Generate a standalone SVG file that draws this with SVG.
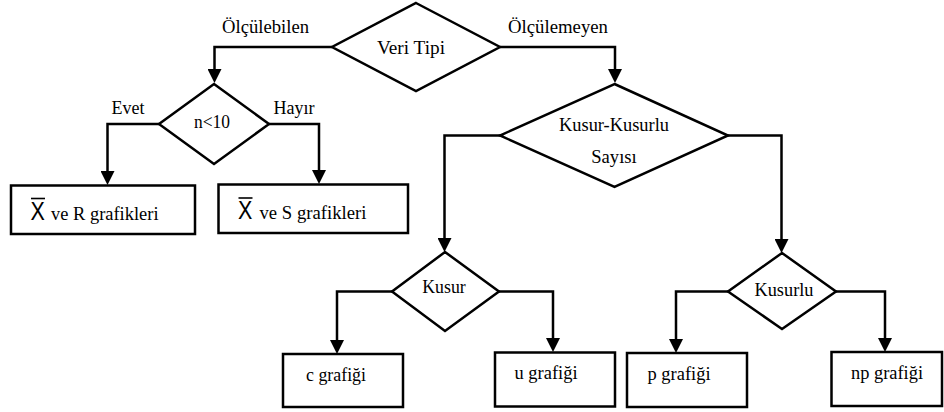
<svg xmlns="http://www.w3.org/2000/svg" width="944" height="412" viewBox="0 0 944 412">
<defs>
<marker id="arr" markerUnits="userSpaceOnUse" markerWidth="14" markerHeight="14" refX="10" refY="7" orient="auto">
<path d="M0,0 L14,7 L0,14 z" fill="#000"/>
</marker>
<style>
.shape{fill:#fff;stroke:#000;stroke-width:2.5;stroke-linejoin:miter}
.conn{fill:none;stroke:#000;stroke-width:2.5;marker-end:url(#arr)}
.t{font-family:"Liberation Serif","Times New Roman",serif;font-size:18.5px;fill:#000}
.m{text-anchor:middle}
.x{font-family:"Liberation Sans",Arial,sans-serif;font-size:25px;fill:#000}
.ol{stroke:#000;stroke-width:1.6}
</style>
</defs>
<rect width="944" height="412" fill="#fff"/>
<g id="connectors">
<path class="conn" d="M332,47 H214.5 V79"/>
<path class="conn" d="M500,47 H615 V79"/>
<path class="conn" d="M159,124 H107.5 V181"/>
<path class="conn" d="M269,124 H319 V180"/>
<path class="conn" d="M500,135.5 H444.5 V248"/>
<path class="conn" d="M728,135.5 H781.5 V249"/>
<path class="conn" d="M392,291.5 H337 V350"/>
<path class="conn" d="M499,291.5 H553 V348"/>
<path class="conn" d="M728,291.5 H676 V349"/>
<path class="conn" d="M836,291.5 H885 V348"/>
<text class="t m" x="265.5" y="33" textLength="87" lengthAdjust="spacingAndGlyphs">Ölçülebilen</text>
<text class="t m" x="558" y="33" textLength="100" lengthAdjust="spacingAndGlyphs">Ölçülemeyen</text>
<text class="t m" x="128" y="114" textLength="33" lengthAdjust="spacingAndGlyphs">Evet</text>
<text class="t m" x="294" y="114" textLength="41" lengthAdjust="spacingAndGlyphs">Hayır</text>
</g>
<g id="veri-tipi">
<polygon class="shape" points="416,3 500,47 416,91 332,47"/>
<text class="t m" x="411" y="54" textLength="68" lengthAdjust="spacingAndGlyphs">Veri Tipi</text>
</g>
<g id="n10">
<polygon class="shape" points="214,84 269,124 214,164 159,124"/>
<text class="t m" x="212" y="128" textLength="36" lengthAdjust="spacingAndGlyphs">n&lt;10</text>
</g>
<g id="kusur-kusurlu">
<polygon class="shape" points="614.5,84 728,135.5 614.5,187 500,135.5"/>
<text class="t m" x="614" y="130.5" textLength="110" lengthAdjust="spacingAndGlyphs">Kusur-Kusurlu</text>
<text class="t m" x="614" y="162.5" textLength="45.5" lengthAdjust="spacingAndGlyphs">Sayısı</text>
</g>
<g id="kusur">
<polygon class="shape" points="445,252 499,291.5 445,331 392,291.5"/>
<text class="t m" x="444" y="293" textLength="43.5" lengthAdjust="spacingAndGlyphs">Kusur</text>
</g>
<g id="kusurlu">
<polygon class="shape" points="782,253 836,291.5 782,329 728,291.5"/>
<text class="t m" x="784" y="295.5" textLength="59" lengthAdjust="spacingAndGlyphs">Kusurlu</text>
</g>
<g id="xr">
<rect class="shape" x="11" y="185.5" width="184" height="48.5"/>
<text class="x" transform="translate(30.5,219.5) scale(0.86,1)">X</text>
<line class="ol" x1="31" y1="198.5" x2="45" y2="198.5"/>
<text class="t" x="51" y="219.5" textLength="107.5" lengthAdjust="spacingAndGlyphs">ve R grafikleri</text>
</g>
<g id="xs">
<rect class="shape" x="218.5" y="184.5" width="189.5" height="48.5"/>
<text class="x" transform="translate(238,219) scale(0.86,1)">X</text>
<line class="ol" x1="238.5" y1="198" x2="252.5" y2="198"/>
<text class="t" x="259.5" y="219" textLength="107" lengthAdjust="spacingAndGlyphs">ve S grafikleri</text>
</g>
<g id="c">
<rect class="shape" x="283" y="354" width="120" height="53"/>
<text class="t m" x="336" y="381" textLength="60" lengthAdjust="spacingAndGlyphs">c grafiği</text>
</g>
<g id="u">
<rect class="shape" x="495" y="352.5" width="120" height="54"/>
<text class="t m" x="546" y="379" textLength="63" lengthAdjust="spacingAndGlyphs">u grafiği</text>
</g>
<g id="p">
<rect class="shape" x="627" y="353" width="120" height="54"/>
<text class="t m" x="679" y="380" textLength="63" lengthAdjust="spacingAndGlyphs">p grafiği</text>
</g>
<g id="np">
<rect class="shape" x="831.5" y="352" width="110.5" height="54"/>
<text class="t m" x="887" y="379" textLength="72" lengthAdjust="spacingAndGlyphs">np grafiği</text>
</g>
</svg>
